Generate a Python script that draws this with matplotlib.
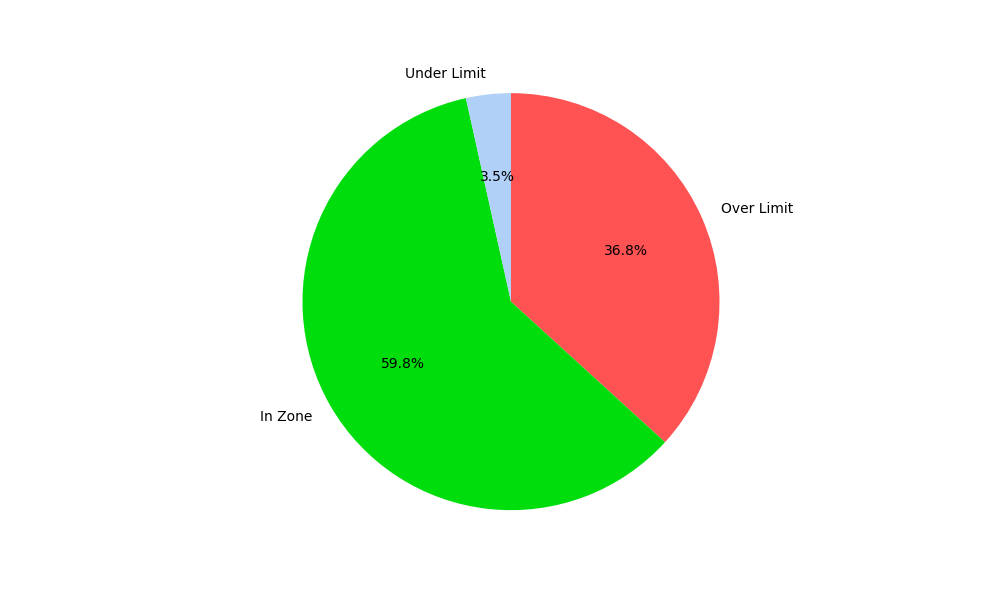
import matplotlib
matplotlib.use("Agg")
import matplotlib.pyplot as plt

labels = ["Over Limit", "In Zone", "Under Limit"]
values = [36.77, 59.76, 3.47]
colors = ["#ff5252", "#00dd0d", "#b0d0f8"]

fig = plt.figure(figsize=(10, 6), dpi=100)
plt.subplots_adjust(left=0.125, right=0.897, bottom=0.115, top=0.8795)
plt.pie(values, labels=labels, colors=colors, autopct="%1.1f%%",
        startangle=90, counterclock=False)
plt.axis("equal")
fig.savefig("out.png")
